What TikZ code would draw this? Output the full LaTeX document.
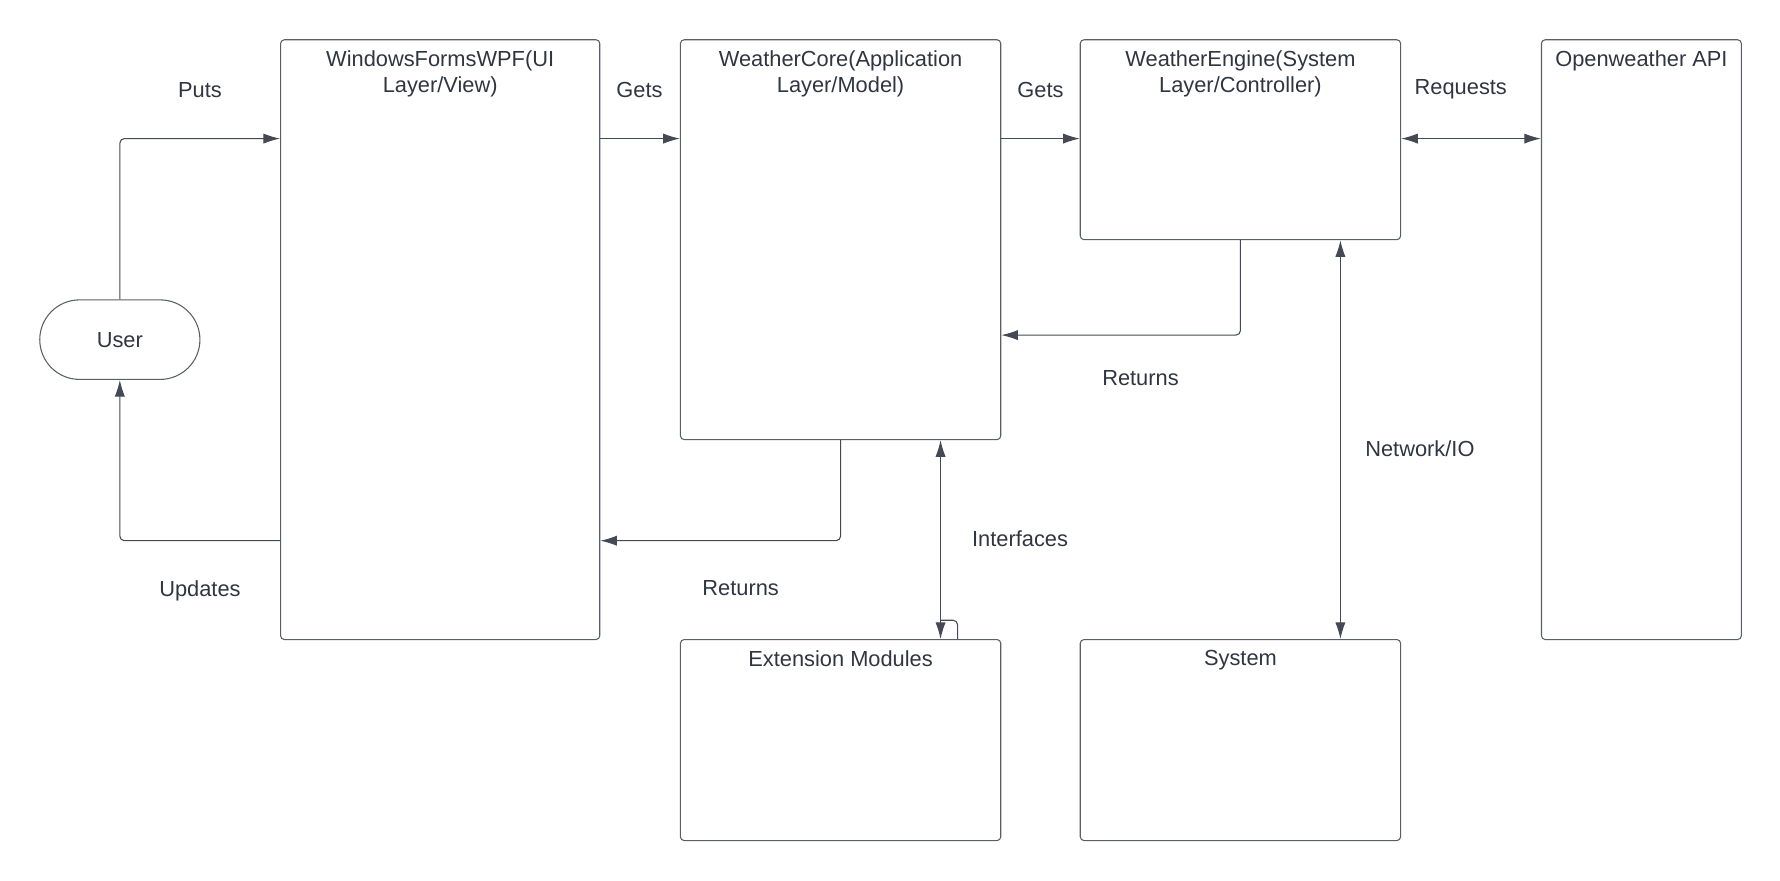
\documentclass[tikz,border=0pt]{standalone}
\usepackage{fontspec}
\setmainfont{Liberation Sans}
\usepackage{tikz}
\usetikzlibrary{shapes.misc,arrows.meta}
\definecolor{boxline}{HTML}{5A5E66}
\definecolor{ink}{HTML}{2F3541}
\tikzstyle{layer}=[draw=boxline,line width=0.8pt,rounded corners=1mm,inner sep=0pt]
\tikzstyle{wire}=[draw=ink!90,line width=0.8pt,rounded corners=1.2mm]
\tikzstyle{tip}=[-{Latex[length=4.4mm,width=2.7mm]}]
\tikzstyle{tips}=[{Latex[length=4.4mm,width=2.7mm]}-{Latex[length=4.4mm,width=2.7mm]}]
\tikzstyle{caption}=[text=ink,align=center,inner sep=0pt,font=\fontsize{16.4pt}{19.6pt}\selectfont]

\begin{document}
\begin{tikzpicture}[x=0.3mm,y=-0.3mm]
	\useasboundingbox (0,0) rectangle (1567,775);
	% layers
	\node[layer,minimum width=84.3mm,minimum height=158.4mm] (wf) at (387.5,299) {};
	\node[layer,minimum width=84.6mm,minimum height=105.6mm] (wc) at (740,211) {};
	\node[layer,minimum width=84.6mm,minimum height=52.8mm] (we) at (1092,123) {};
	\node[layer,minimum width=52.8mm,minimum height=158.4mm] (api) at (1445,299) {};
	\node[layer,minimum width=84.6mm,minimum height=53.1mm] (ext) at (740,651.5) {};
	\node[layer,minimum width=84.6mm,minimum height=53.1mm] (sys) at (1092,651.5) {};
	\node[layer,sharp corners,rounded rectangle,minimum width=42.3mm,minimum height=21mm,caption] (user) at (105.5,299) {User};

	\node[caption,anchor=north,yshift=-3mm] (wft) at (wf.north) {WindowsFormsWPF(UI\\Layer/View)};
	\node[caption,anchor=north,yshift=-3mm] (wct) at (wc.north) {WeatherCore(Application\\Layer/Model)};
	\node[caption,anchor=north,yshift=-3mm] (wet) at (we.north) {WeatherEngine(System\\Layer/Controller)};
	\node[caption,anchor=north,yshift=-3mm] (apit) at (api.north) {Openweather API};
	\node[caption,anchor=north,yshift=-3mm] (extt) at (ext.north) {Extension Modules};
	\node[caption,anchor=north,yshift=-3mm] (syst) at (sys.north) {System};

	% rows and columns of the wires
	\coordinate (top) at (0,122);
	\coordinate (mid) at (0,295);
	\coordinate (low) at (0,476);
	\coordinate (iface) at (828,0);
	\coordinate (hook) at (843,0);
	\coordinate (jog) at (828,546);
	\coordinate (netio) at (1180,0);

	\draw[wire,tip] (user.north) |- (wf.west |- top);
	\draw[wire,tip] (wf.west |- low) -| (user.south);
	\draw[wire,tip] (wf.east |- top) -- (wc.west |- top);
	\draw[wire,tip] (wc.east |- top) -- (we.west |- top);
	\draw[wire,tips] (we.east |- top) -- (api.west |- top);
	\draw[wire,tip] (we.south) |- (wc.east |- mid);
	\draw[wire,tip] (wc.south) |- (wf.east |- low);
	\draw[wire,tips] (wc.south -| iface) -- (ext.north -| iface);
	\draw[wire] (ext.north -| hook) |- (jog);
	\draw[wire,tips] (we.south -| netio) -- (sys.north -| netio);

	% wire labels
	\node[caption] (lputs) at (176,79) {Puts};
	\node[caption] (lupdates) at (176,520) {Updates};
	\node[caption] (lgets) at (563,79) {Gets};
	\node[caption] (lgetsb) at (916,79) {Gets};
	\node[caption] (lrequests) at (1286,79) {Requests};
	\node[caption] (lreturns) at (1004,333) {Returns};
	\node[caption] (lreturnsb) at (652,518) {Returns};
	\node[caption] (linterfaces) at (898,474) {Interfaces};
	\node[caption] (lnetio) at (1250,395) {Network/IO};
\end{tikzpicture}
\end{document}
